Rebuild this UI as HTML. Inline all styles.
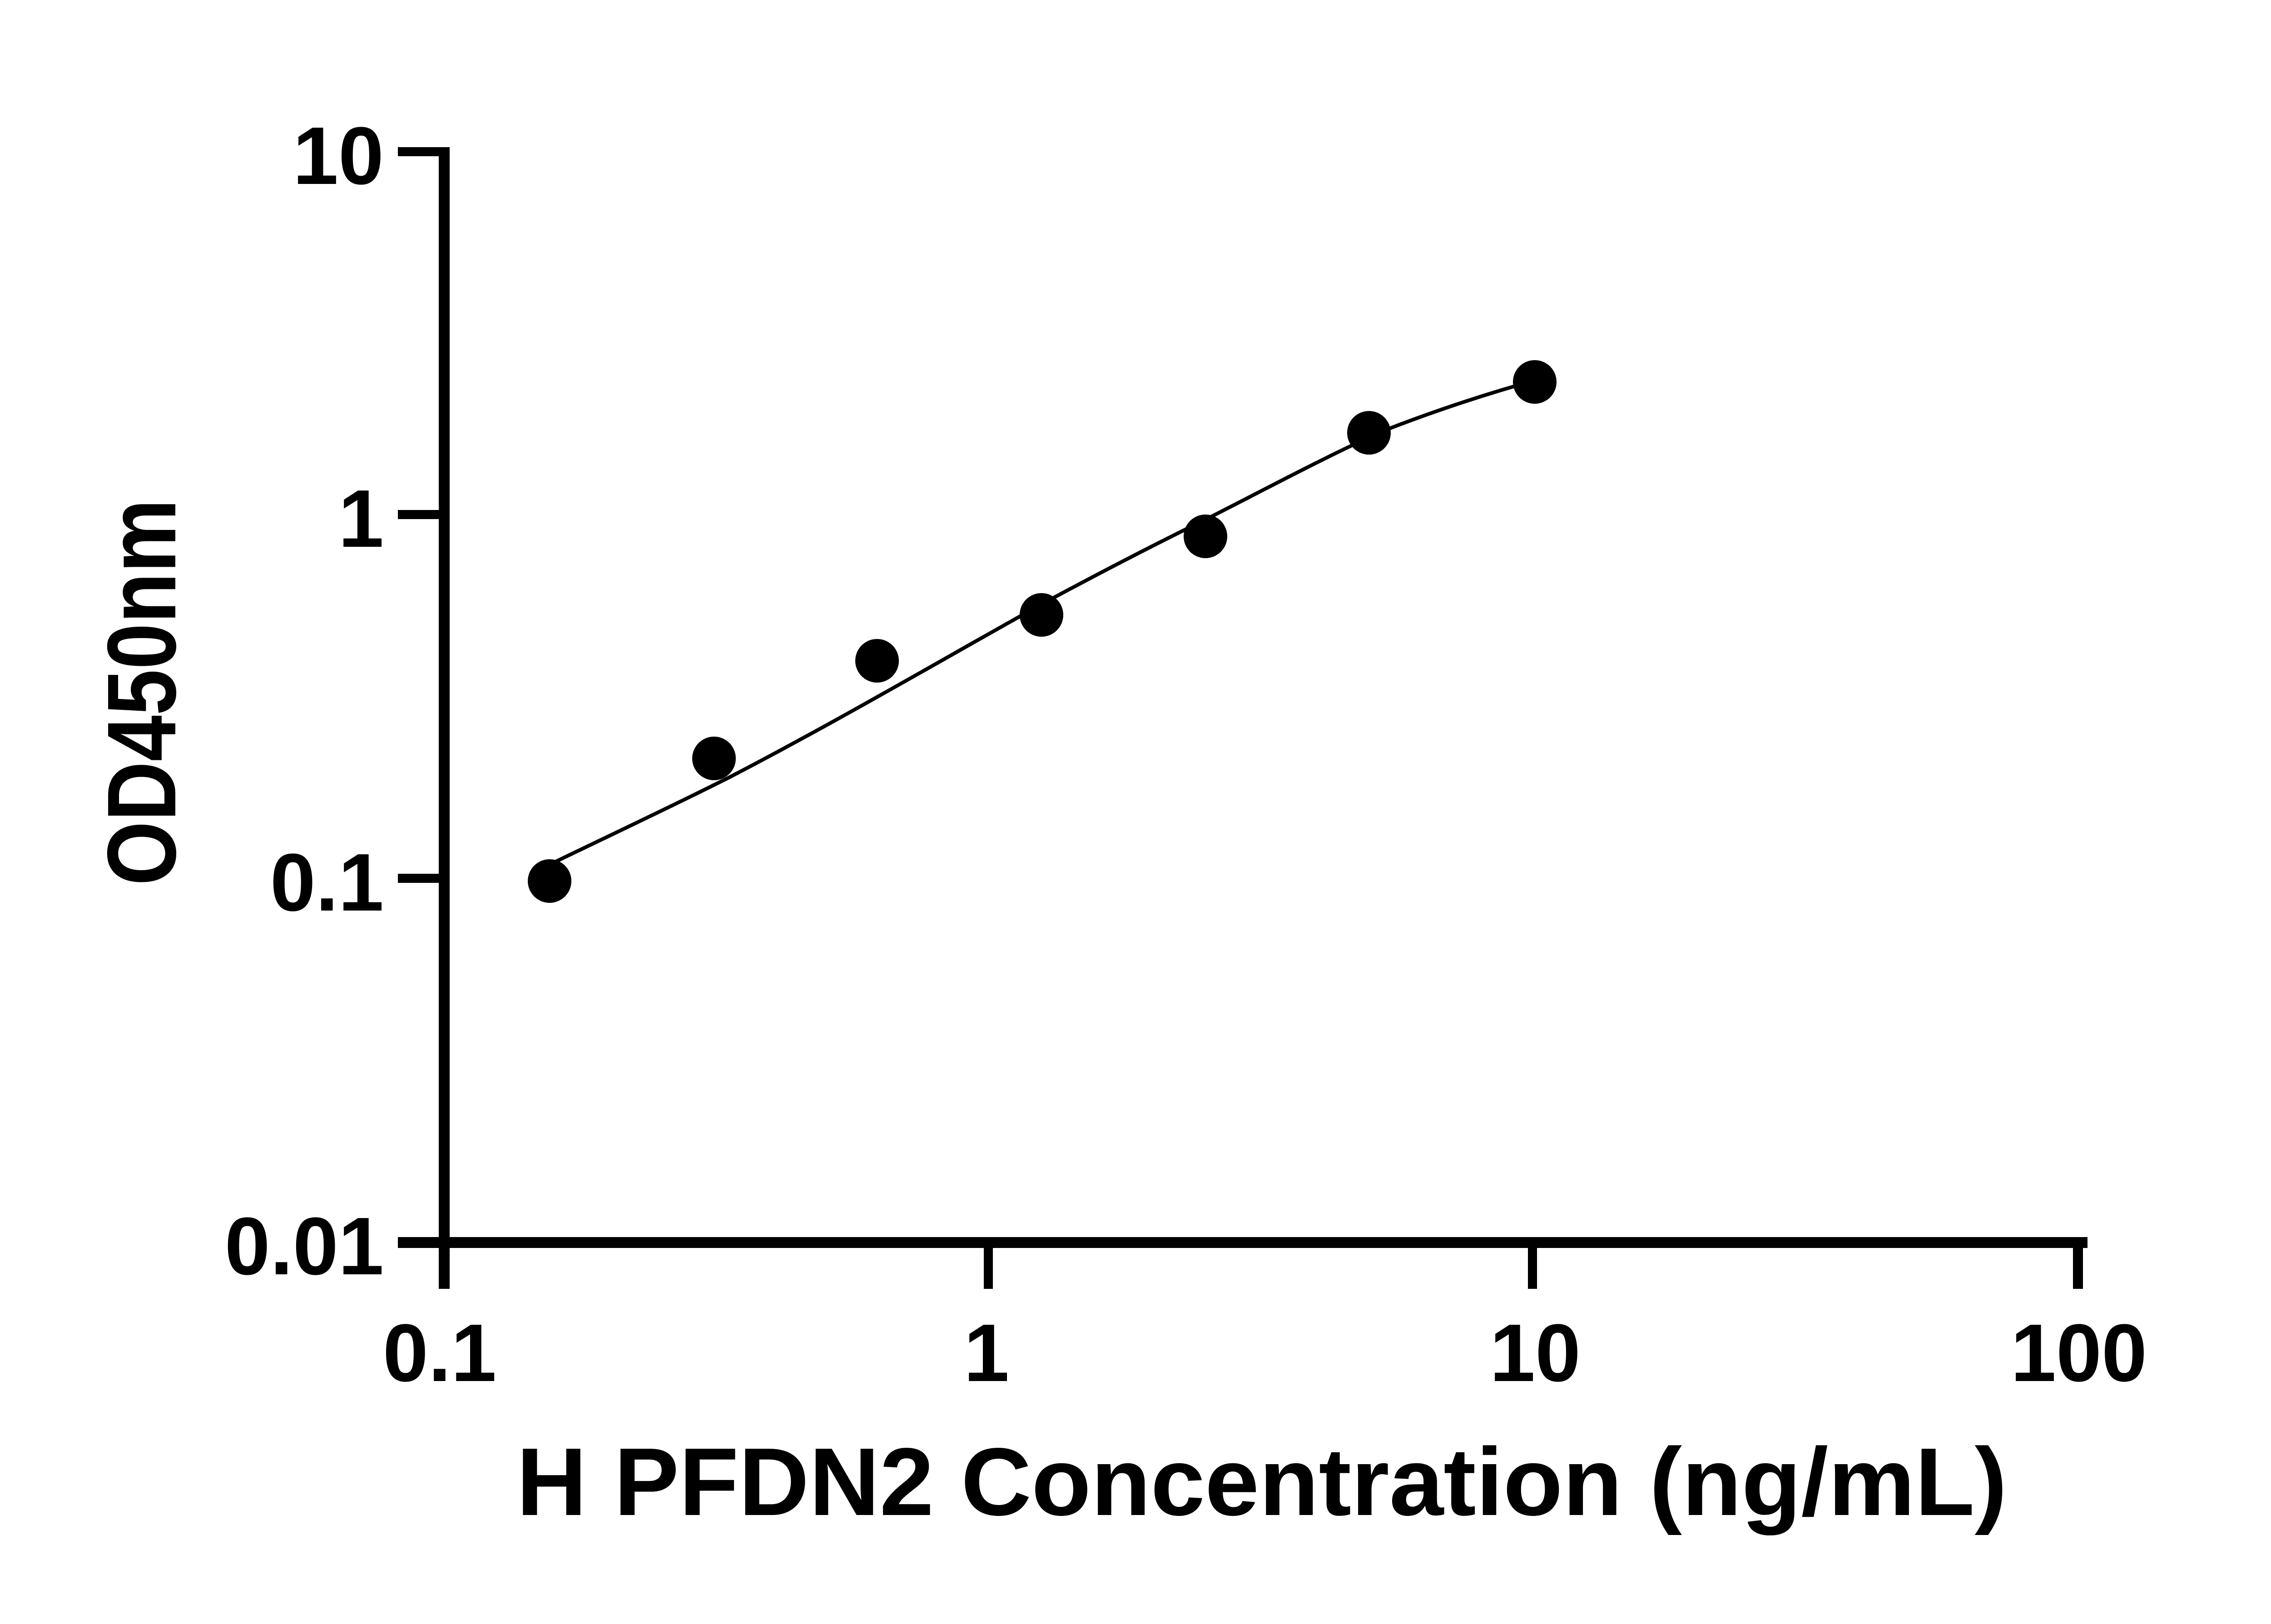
<!DOCTYPE html>
<html><head><meta charset="utf-8"><style>html,body{margin:0;padding:0;background:#fff}svg{display:block}</style></head>
<body>
<svg width="5130" height="3576" viewBox="0 0 5130 3576" xmlns="http://www.w3.org/2000/svg">
<rect width="5130" height="3576" fill="#fff"/>
<g fill="#000" stroke="none">
<rect x="966" y="324" width="24" height="2514"/>
<rect x="876" y="2724" width="3720" height="24"/>
<rect x="876" y="324" width="100" height="20"/>
<rect x="876" y="1123" width="100" height="20"/>
<rect x="876" y="1924" width="100" height="20"/>
<rect x="2166" y="2736" width="20" height="102"/>
<rect x="3364" y="2736" width="20" height="102"/>
<rect x="4564" y="2724" width="22" height="114"/>
</g>
<g font-family="Liberation Sans, Arial, sans-serif" font-weight="bold" font-size="180" fill="#000">
<text x="845" y="405" text-anchor="end">10</text>
<text x="845" y="1204" text-anchor="end">1</text>
<text x="845" y="2005" text-anchor="end">0.1</text>
<text x="845" y="2806" text-anchor="end">0.01</text>
<text x="968" y="3041" text-anchor="middle">0.1</text>
<text x="2172" y="3041" text-anchor="middle">1</text>
<text x="3380" y="3041" text-anchor="middle">10</text>
<text x="4577" y="3041" text-anchor="middle">100</text>
</g>
<text x="1137" y="3336" font-family="Liberation Sans, Arial, sans-serif" font-weight="bold" font-size="212" textLength="3282" lengthAdjust="spacingAndGlyphs">H PFDN2 Concentration (ng/mL)</text>
<text transform="translate(386,1950) rotate(-90)" font-family="Liberation Sans, Arial, sans-serif" font-weight="bold" font-size="215" textLength="851" lengthAdjust="spacingAndGlyphs">OD450nm</text>
<path d="M1222,1898 C1350,1836 1480,1775 1605,1712 C1840,1590 2070,1455 2294,1330 C2420,1262 2540,1200 2662,1140 C2790,1075 2920,1005 3045,949 C3145,910 3240,878 3336,850" fill="none" stroke="#000" stroke-width="8"/>
<g fill="#000">
<circle cx="1210" cy="1940" r="48"/>
<circle cx="1572" cy="1670" r="48"/>
<circle cx="1931" cy="1455" r="48"/>
<circle cx="2293" cy="1354" r="48"/>
<circle cx="2654" cy="1181" r="48"/>
<circle cx="3014" cy="953" r="48"/>
<circle cx="3379" cy="841" r="48"/>
</g>
</svg>
</body></html>
